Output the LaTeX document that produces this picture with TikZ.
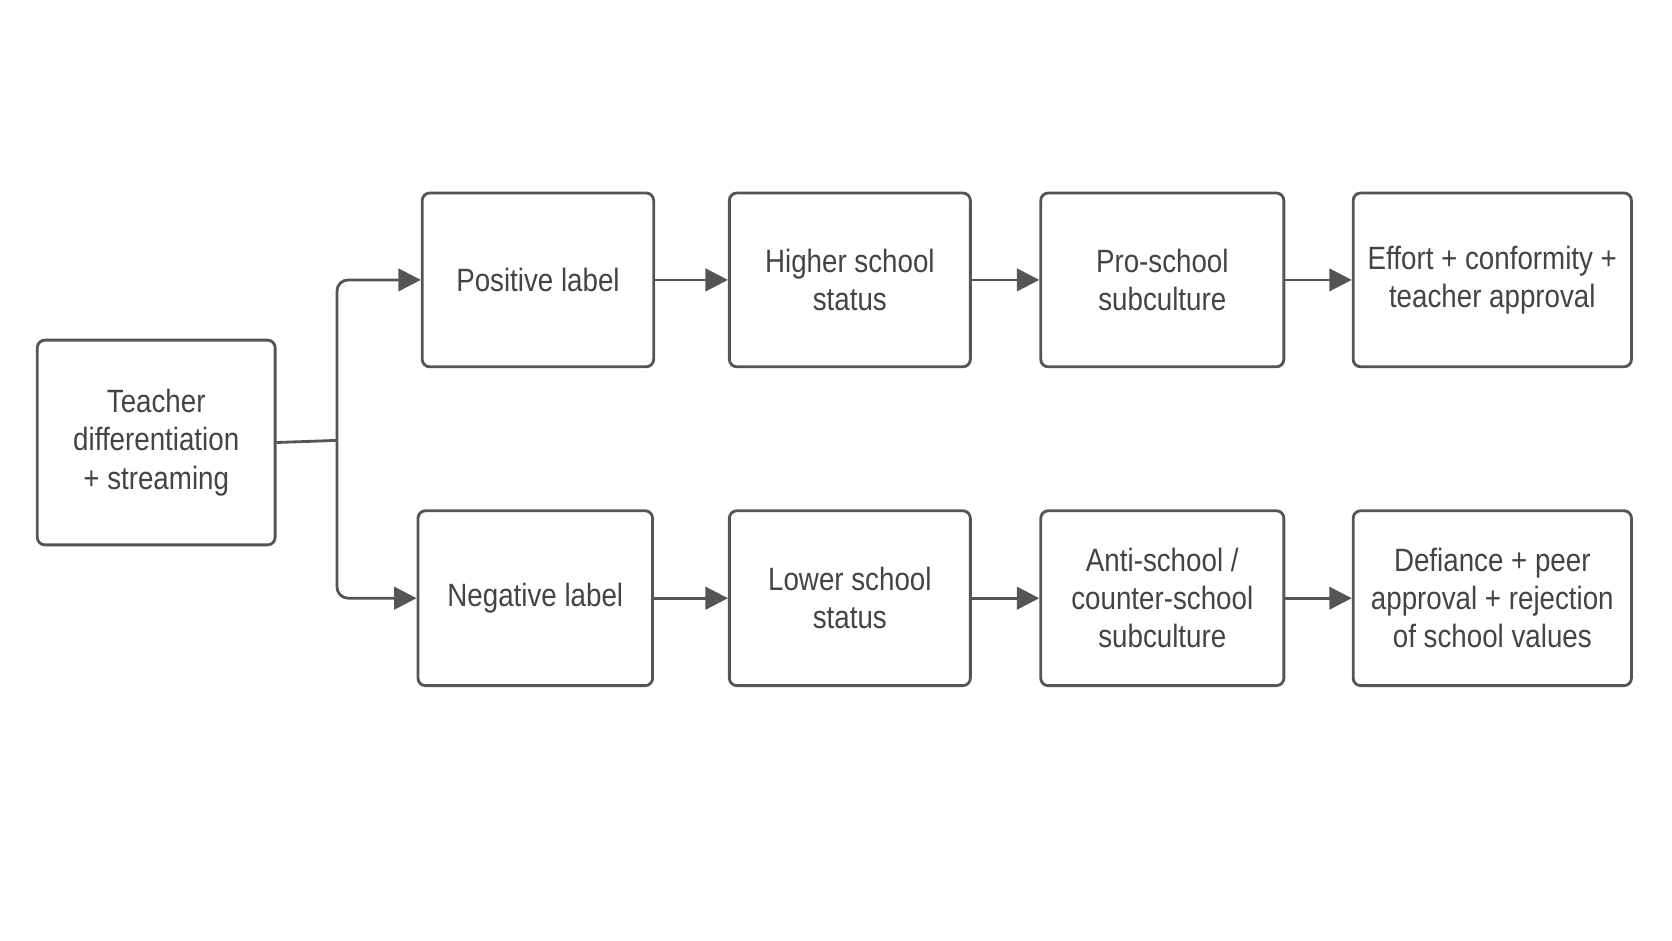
\documentclass[tikz,border=0pt]{standalone}
\usepackage{fontspec}
\setmainfont{Liberation Sans}[FakeStretch=0.86]
\usetikzlibrary{arrows.meta}
\definecolor{ln}{HTML}{555555}
\definecolor{tx}{HTML}{444444}
\begin{document}
\begin{tikzpicture}[x=0.01cm,y=-0.01cm,
 box/.style={draw=ln,line width=0.75pt,rounded corners=2pt,align=center,text=tx,font=\fontsize{8.6}{10.2}\selectfont,inner sep=0pt},
 arr/.style={draw=ln,line width=0.75pt,-{Triangle[length=6pt,width=6pt]}}]
\useasboundingbox (0,0) rectangle (1568,882);
\newcommand{\bx}[6]{\node[box,minimum width={(#4-#2)*0.01cm},minimum height={(#5-#3)*0.01cm}] (#1) at ({(#2+#4)/2},{(#3+#5)/2}) {#6};}
\bx{t}{35}{319}{258}{511}{Teacher\\differentiation\\+ streaming}
\bx{p}{396}{181}{613}{344}{Positive label}
\bx{h}{684}{181}{910}{344}{Higher school\\status}
\bx{ps}{976}{181}{1204}{344}{Pro-school\\subculture}
\bx{e}{1269}{181}{1530}{344}{Effort + conformity +\\teacher approval}
\bx{n}{392}{479}{612}{643}{Negative label}
\bx{l}{684}{479}{910}{643}{Lower school\\status}
\bx{a}{976}{479}{1204}{643}{Anti-school /\\counter-school\\subculture}
\bx{d}{1269}{479}{1530}{643}{Defiance + peer\\approval + rejection\\of school values}
\coordinate (j) at (316,413);
\draw[draw=ln,line width=0.75pt] (t.east) -- (j);
\draw[arr,rounded corners=3pt] (j) |- (p.west);
\draw[arr,rounded corners=3pt] (j) |- (n.west);
\foreach \u/\v in {p/h,h/ps,ps/e,n/l,l/a,a/d} \draw[arr] (\u) -- (\v);
\end{tikzpicture}
\end{document}
